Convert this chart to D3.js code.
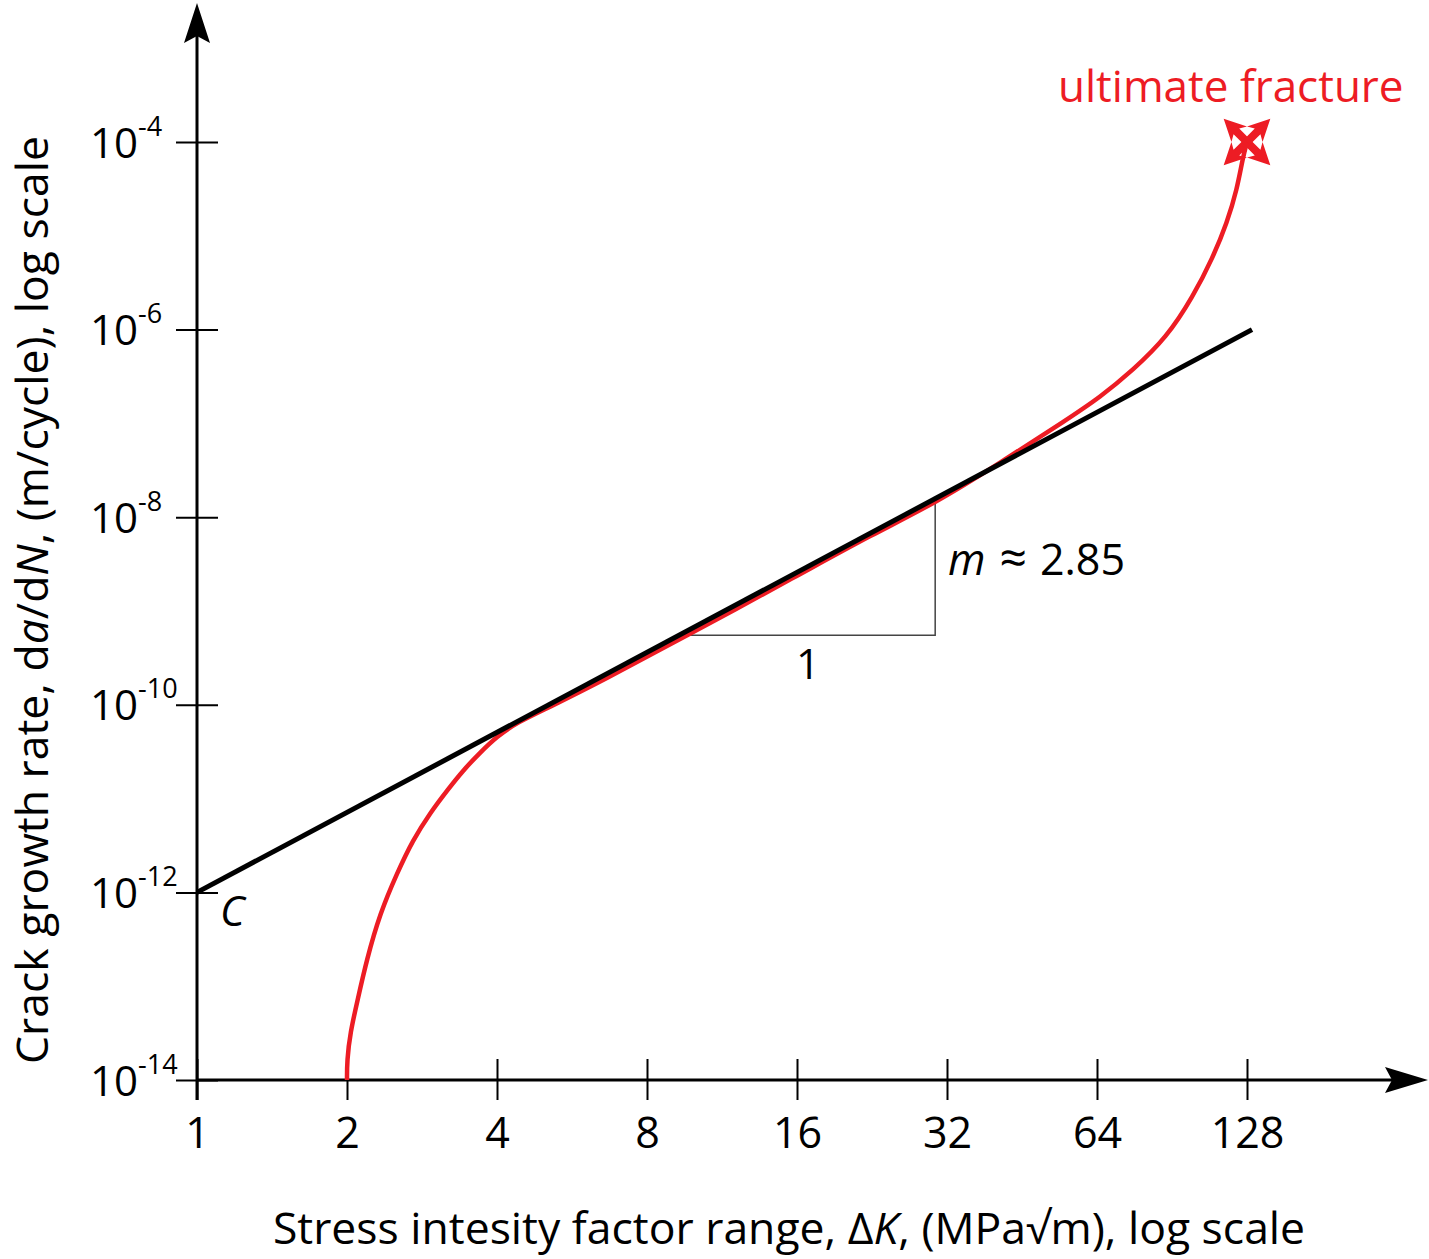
<!DOCTYPE html>
<html><head><meta charset="utf-8">
<script src="https://cdn.jsdelivr.net/npm/d3@7"></script>
<style>body{margin:0;background:#fff}svg text{font-family:"Open Sans",sans-serif}</style>
</head><body>
<svg id="chart" width="1429" height="1259"></svg>
<script>
// ---- data ----
const xTicks = [1, 2, 4, 8, 16, 32, 64, 128];
const yTickExponents = [-14, -12, -10, -8, -6, -4];
const yTicks = [1e-14, 1e-12, 1e-10, 1e-8, 1e-6, 1e-4];

// Paris-law straight line (black)
const lineK = [1, 131];
const lineRate = [1e-12, 1e-6];

// measured crack growth curve (red)
const redK = [2, 2.0, 2.03, 2.10, 2.19, 2.33, 2.52, 2.71, 2.94, 3.18, 3.42, 3.70, 4.0, 4.39, 5.11, 6.5,
  9.45, 16.2, 22.6, 30.3, 40.9, 55.7, 64.9, 75.6, 88.4, 99.7, 109.4, 116.7, 122.2, 125.6, 128];
const redRate = [1e-14, 1.6e-14, 3.2e-14, 7.1e-14, 1.9e-13, 6.0e-13, 1.6e-12, 3.6e-12, 7.1e-12, 1.23e-11,
  2.0e-11, 3.1e-11, 4.6e-11, 6.5e-11, 9.5e-11, 1.8e-10, 5.2e-10, 2.45e-9, 6.5e-9, 1.41e-8, 3.8e-8,
  1.1e-7, 1.9e-7, 3.7e-7, 8.3e-7, 2.24e-6, 5.9e-6, 1.38e-5, 3.1e-5, 6.9e-5, 1e-4];

// slope triangle
const triK = [9.45, 30.3];
const triRate = [5.5e-10, 1.52e-8];

const fracturePoint = {K: 128, rate: 1e-4};

// ---- scales ----
const svg = d3.select("#chart");
const x = d3.scaleLog().base(2).domain([1, 128]).range([197, 1247]);
const y = d3.scaleLog().domain([1e-14, 1e-4]).range([1080, 142]);

// ---- axes ----
const xAxis = svg.append("g").attr("transform", "translate(0,1080)")
  .call(d3.axisBottom(x).tickValues(xTicks).tickFormat(d3.format("d")).tickSizeOuter(0));
xAxis.select(".domain").remove();
xAxis.selectAll(".tick line").attr("y1", -21).attr("y2", 20).attr("stroke", "#000").attr("stroke-width", 2);
xAxis.selectAll(".tick text").attr("font-size", 43).attr("fill", "#000").attr("dy", 0).attr("y", 68);

const yAxis = svg.append("g").attr("transform", "translate(197,0)")
  .call(d3.axisLeft(y).tickValues(yTicks).tickFormat("").tickSizeOuter(0));
yAxis.select(".domain").remove();
yAxis.selectAll(".tick line").attr("x1", -21).attr("x2", 21).attr("stroke", "#000").attr("stroke-width", 2);
yAxis.selectAll(".tick").each(function(d, i) {
  const t = d3.select(this).append("text").attr("x", -107).attr("y", 15)
    .attr("text-anchor", "start").attr("fill", "#000").attr("font-size", 42);
  t.append("tspan").text("10");
  t.append("tspan").attr("font-size", 27).attr("dy", -22).text(yTickExponents[i]);
});

// axis lines
svg.append("line").attr("x1", 197).attr("x2", 197).attr("y1", 1100).attr("y2", 30)
  .attr("stroke", "#000").attr("stroke-width", 3);
svg.append("line").attr("x1", 197).attr("x2", 1400).attr("y1", 1080).attr("y2", 1080)
  .attr("stroke", "#000").attr("stroke-width", 3);
svg.append("path").attr("d", "M197,3 L210,43 L197,36 L184,43 Z").attr("fill", "#000");
svg.append("path").attr("d", "M1428,1080 L1385,1067 L1392,1080 L1385,1093 Z").attr("fill", "#000");

// ---- slope triangle ----
svg.append("path")
  .attr("d", `M${x(triK[0])},${y(triRate[0])} H${x(triK[1])} V${y(triRate[1])}`)
  .attr("fill", "none").attr("stroke", "#444").attr("stroke-width", 1.5);

// ---- red curve ----
const redPts = redK.map((k, i) => [x(k), y(redRate[i])]);
svg.append("path").attr("d", d3.line().curve(d3.curveBasis)(redPts))
  .attr("fill", "none").attr("stroke", "#ED1C24").attr("stroke-width", 4.5);

// ---- black line ----
svg.append("line").attr("x1", x(lineK[0])).attr("y1", y(lineRate[0]))
  .attr("x2", x(lineK[1])).attr("y2", y(lineRate[1]))
  .attr("stroke", "#000").attr("stroke-width", 5);

// ---- fracture marker ----
const fx = x(fracturePoint.K), fy = y(fracturePoint.rate);
const arm = "M0,-4 L15,-4 L11,-11 L33,0 L11,11 L15,4 L0,4 Z";
[45, 135, 225, 315].forEach(a => {
  svg.append("path").attr("d", arm).attr("fill", "#ED1C24")
    .attr("transform", `translate(${fx},${fy}) rotate(${a})`);
});

// ---- annotations ----
svg.append("text").attr("x", 1058).attr("y", 102).attr("fill", "#ED1C24")
  .attr("font-size", 44).text("ultimate fracture");
svg.append("text").attr("x", 220).attr("y", 926).attr("font-size", 42)
  .attr("font-style", "italic").text("C");
const mt = svg.append("text").attr("x", 948).attr("y", 575).attr("font-size", 43);
mt.append("tspan").attr("font-style", "italic").text("m");
mt.append("tspan").attr("font-size", 48).attr("dx", 14).text("\u2248");
mt.append("tspan").attr("dx", 13).text("2.85");
svg.append("text").attr("x", 808).attr("y", 679).attr("font-size", 42)
  .attr("text-anchor", "middle").text("1");

// ---- axis titles ----
const xt = svg.append("text").attr("x", 789).attr("y", 1244).attr("text-anchor", "middle").attr("font-size", 44.5);
xt.append("tspan").text("Stress intesity factor range, \u0394");
xt.append("tspan").attr("font-style", "italic").text("K");
xt.append("tspan").text(", (MPa\u221Am), log scale");

const yt = svg.append("text").attr("transform", "translate(48,600) rotate(-90)")
  .attr("text-anchor", "middle").attr("font-size", 44.5);
yt.append("tspan").text("Crack growth rate, d");
yt.append("tspan").attr("font-style", "italic").text("a");
yt.append("tspan").text("/d");
yt.append("tspan").attr("font-style", "italic").text("N");
yt.append("tspan").text(", (m/cycle), log scale");
</script>
</body></html>
